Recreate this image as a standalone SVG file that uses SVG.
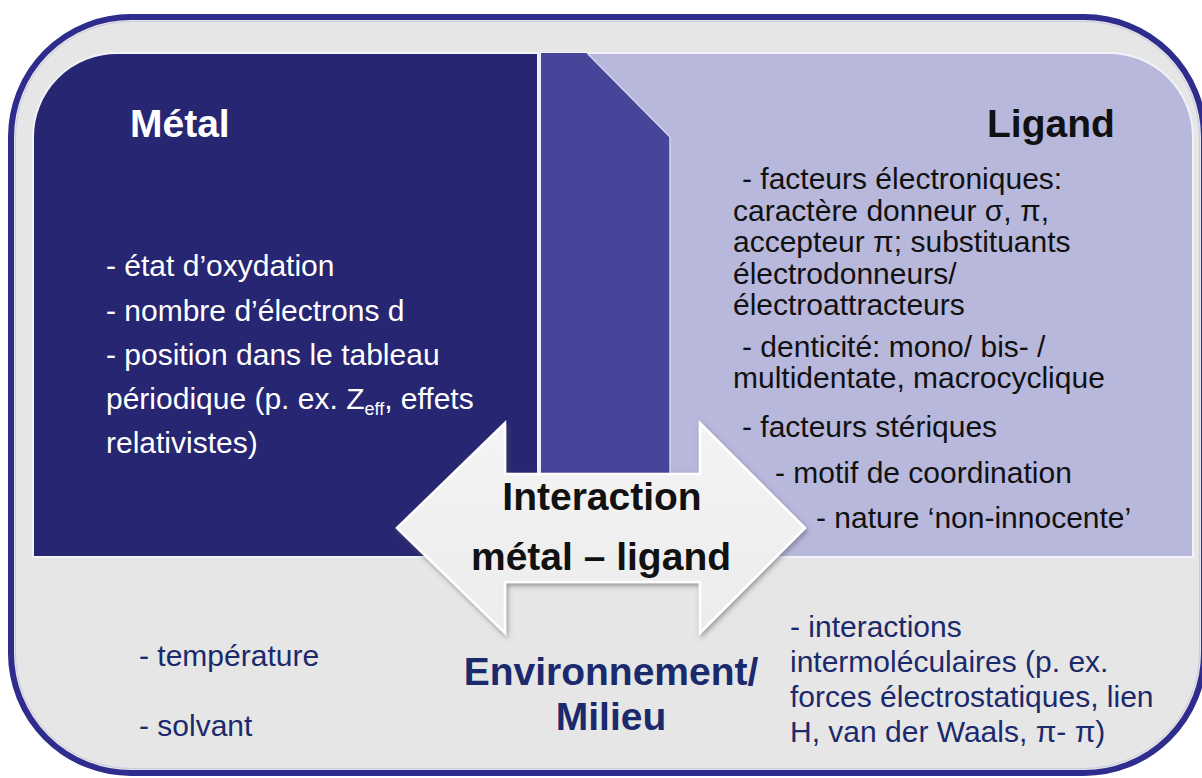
<svg xmlns="http://www.w3.org/2000/svg" width="1202" height="778" viewBox="0 0 1202 778">
  <defs>
    <filter id="soft-shadow" x="-10%" y="-10%" width="120%" height="125%">
      <feDropShadow dx="1.5" dy="2.5" stdDeviation="2.5" flood-color="#555" flood-opacity="0.55"/>
    </filter>
    <linearGradient id="arrow-fill" x1="0" y1="0" x2="0" y2="1">
      <stop offset="0" stop-color="#f4f4f4"/>
      <stop offset="1" stop-color="#ececec"/>
    </linearGradient>
  </defs>
  <style>
    .body { font-family: "Liberation Sans", Arial, sans-serif; font-size: 30px; }
    .title { font-family: "Liberation Sans", Arial, sans-serif; font-size: 39px; font-weight: bold; }
    .light { fill: #ffffff; }
    .dark { fill: #111111; }
    .navy { fill: #1b2a6c; }
    .panel-edge { stroke: #f2f2fa; stroke-width: 2; }
  </style>

  <!-- outer rounded frame -->
  <g id="frame">
    <rect x="11" y="17" width="1193" height="756" rx="120" ry="120" fill="#e6e6e6" stroke="#2e2c8c" stroke-width="6"/>
    <rect x="15.5" y="21.5" width="1184" height="747" rx="116" ry="116" fill="none" stroke="#c9c9e4" stroke-width="1"/>
  </g>

  <!-- metal panel -->
  <g id="metal">
    <path d="M33,557 L33,137 A84,84 0 0 1 117,53 L538,53 L538,557 Z" fill="#272672" class="panel-edge"/>
    <text class="title light" x="130" y="137">Métal</text>
    <text class="body light" x="106" y="276">- état d’oxydation</text>
    <text class="body light" x="106" y="321">- nombre d’électrons d</text>
    <text class="body light" x="106" y="365">- position dans le tableau</text>
    <text class="body light" x="106" y="409">périodique (p. ex. Z<tspan font-size="18" dy="6">eff</tspan><tspan dy="-6">, effets</tspan></text>
    <text class="body light" x="106" y="453">relativistes)</text>
  </g>

  <!-- ligand panel -->
  <g id="ligand">
    <path d="M541,53 L1109,53 A84,84 0 0 1 1193,137 L1193,557 L541,557 Z" fill="#b8b8dd" class="panel-edge"/>
    <path d="M541,53 L587,53 L670,137 L670,557 L541,557 Z" fill="#45459a"/>
    <path d="M587,53 L670,137 L670,557" fill="none" stroke="#d4d4ee" stroke-width="1.5"/>
    <text class="title dark" x="987" y="137">Ligand</text>
    <text class="body dark" x="742" y="189">- facteurs électroniques:</text>
    <text class="body dark" x="733" y="221">caractère donneur σ, π,</text>
    <text class="body dark" x="733" y="252">accepteur π; substituants</text>
    <text class="body dark" x="733" y="284">électrodonneurs/</text>
    <text class="body dark" x="733" y="315">électroattracteurs</text>
    <text class="body dark" x="742" y="357">- denticité: mono/ bis- /</text>
    <text class="body dark" x="733" y="388">multidentate, macrocyclique</text>
    <text class="body dark" x="742" y="437">- facteurs stériques</text>
    <text class="body dark" x="775" y="483">- motif de coordination</text>
    <text class="body dark" x="816" y="528">- nature ‘non-innocente’</text>
  </g>

  <!-- environment / medium -->
  <g id="environment">
    <text class="body navy" x="139" y="666">- température</text>
    <text class="body navy" x="139" y="736">- solvant</text>
    <text class="title navy" x="611" y="685" text-anchor="middle" font-size="35">Environnement/</text>
    <text class="title navy" x="611" y="730" text-anchor="middle" font-size="35">Milieu</text>
    <text class="body navy" x="790" y="637">- interactions</text>
    <text class="body navy" x="790" y="672">intermoléculaires (p. ex.</text>
    <text class="body navy" x="790" y="707">forces électrostatiques, lien</text>
    <text class="body navy" x="790" y="742">H, van der Waals, π- π)</text>
  </g>

  <!-- double-headed interaction arrow -->
  <g id="connectors">
    <g id="interaction">
      <path d="M397,528 L505,423 L505,474 L700,474 L700,423 L805,528 L700,633 L700,582 L505,582 L505,633 Z" fill="url(#arrow-fill)" stroke="#ffffff" stroke-width="2.5" stroke-linejoin="miter" filter="url(#soft-shadow)"/>
      <text class="title dark" x="602" y="510" text-anchor="middle">Interaction</text>
      <text class="title dark" x="601" y="570" text-anchor="middle">métal – ligand</text>
    </g>
  </g>
</svg>
